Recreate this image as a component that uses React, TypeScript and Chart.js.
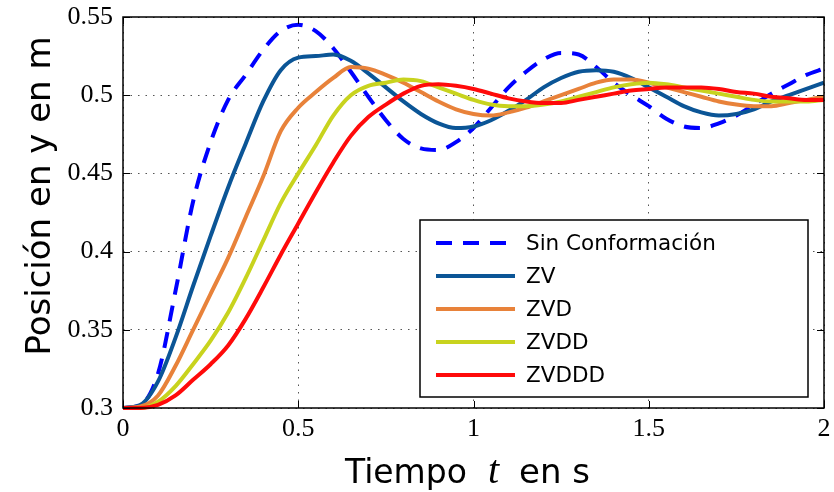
import { useEffect, useRef } from "react";
import { Chart, registerables } from "chart.js";

Chart.register(...registerables);

const time = [
  0, 0.05, 0.1, 0.15, 0.2, 0.25, 0.3, 0.35, 0.4, 0.45, 0.5, 0.55, 0.6, 0.65, 0.7, 0.75, 0.8, 0.85, 0.9, 0.95,
  1.0, 1.05, 1.1, 1.15, 1.2, 1.25, 1.3, 1.35, 1.4, 1.45, 1.5, 1.55, 1.6, 1.65, 1.7, 1.75, 1.8, 1.85, 1.9, 1.95, 2.0,
];

const sinConformacion = [
  0.3, 0.302, 0.322, 0.375, 0.432, 0.47, 0.497, 0.513, 0.529, 0.541, 0.545, 0.541, 0.53, 0.515, 0.499, 0.484,
  0.472, 0.466, 0.465, 0.47, 0.479, 0.492, 0.505, 0.515, 0.523, 0.527, 0.526, 0.518, 0.508, 0.5, 0.493, 0.485,
  0.48, 0.479, 0.482, 0.487, 0.494, 0.501, 0.507, 0.513, 0.517,
];

const zv = [
  0.3, 0.302, 0.317, 0.345, 0.378, 0.41, 0.441, 0.469, 0.496, 0.516, 0.524, 0.525, 0.526, 0.522, 0.514, 0.505,
  0.496, 0.488, 0.482, 0.479, 0.48, 0.484, 0.49, 0.497, 0.505, 0.511, 0.515, 0.516, 0.515, 0.511, 0.505, 0.499,
  0.493, 0.489, 0.487, 0.488, 0.491, 0.496, 0.5, 0.504, 0.508,
];

const zvd = [
  0.3, 0.301, 0.308, 0.327, 0.35, 0.373, 0.396, 0.422, 0.448, 0.477, 0.492, 0.502, 0.511, 0.518, 0.517, 0.513,
  0.508, 0.502, 0.496, 0.491, 0.488, 0.487, 0.489, 0.492, 0.496, 0.5, 0.504, 0.508, 0.51, 0.51, 0.508, 0.505,
  0.502, 0.499, 0.496, 0.494, 0.493, 0.493, 0.495, 0.497, 0.499,
];

const zvdd = [
  0.3, 0.3, 0.304, 0.314, 0.328, 0.343, 0.361, 0.383, 0.407, 0.431, 0.45, 0.468, 0.487, 0.5, 0.506, 0.508,
  0.51, 0.509, 0.505, 0.501, 0.497, 0.494, 0.493, 0.493, 0.494, 0.496, 0.499, 0.502, 0.505, 0.507, 0.508, 0.507,
  0.505, 0.503, 0.501, 0.499, 0.497, 0.496, 0.496, 0.496, 0.497,
];

const zvddd = [
  0.3, 0.3, 0.302, 0.308, 0.318, 0.328, 0.34, 0.357, 0.377, 0.398, 0.418, 0.438, 0.457, 0.474, 0.486, 0.494,
  0.501, 0.506, 0.507, 0.506, 0.504, 0.501, 0.498, 0.496, 0.495, 0.495, 0.497, 0.499, 0.501, 0.503, 0.504, 0.505,
  0.505, 0.505, 0.504, 0.502, 0.501, 0.499, 0.498, 0.497, 0.497,
];

const seriesNames = ["Sin Conformación", "ZV", "ZVD", "ZVDD", "ZVDDD"];
const seriesColors = ["#0000FF", "#0B5596", "#E8823A", "#C8D31E", "#FF0A0A"];

const xTickValues = [0, 0.5, 1, 1.5, 2];
const xTickLabels = ["0", "0.5", "1", "1.5", "2"];
const yTickValues = [0.3, 0.35, 0.4, 0.45, 0.5, 0.55];
const yTickLabels = ["0.3", "0.35", "0.4", "0.45", "0.5", "0.55"];

const xTitleParts = ["Tiempo", "t", "en s"];
const yTitle = "Posición en y en m";

const SANS = "'DejaVu Sans', Verdana, sans-serif";
const SERIF = "'Liberation Serif', 'Times New Roman', serif";

const decorPlugin = {
  id: "decor",
  afterDatasetsDraw(chart: any) {
    const ctx = chart.ctx as CanvasRenderingContext2D;
    const { left, right, top, bottom } = chart.chartArea;
    const xs = chart.scales.x;
    const ys = chart.scales.y;
    ctx.save();
    // frame
    ctx.strokeStyle = "#000";
    ctx.lineWidth = 1.5;
    ctx.strokeRect(left, top, right - left, bottom - top);
    // inward ticks
    ctx.lineWidth = 1;
    const tl = 7;
    xTickValues.forEach((v) => {
      const px = Math.round(xs.getPixelForValue(v)) + 0.5;
      ctx.beginPath();
      ctx.moveTo(px, bottom);
      ctx.lineTo(px, bottom - tl);
      ctx.moveTo(px, top);
      ctx.lineTo(px, top + tl);
      ctx.stroke();
    });
    yTickValues.forEach((v) => {
      const py = Math.round(ys.getPixelForValue(v)) + 0.5;
      ctx.beginPath();
      ctx.moveTo(left, py);
      ctx.lineTo(left + tl, py);
      ctx.moveTo(right, py);
      ctx.lineTo(right - tl, py);
      ctx.stroke();
    });

    // legend
    const lx = 420, ly = 220, lw = 388, lh = 177;
    ctx.fillStyle = "#fff";
    ctx.fillRect(lx, ly, lw, lh);
    ctx.strokeStyle = "#000";
    ctx.lineWidth = 1.5;
    ctx.strokeRect(lx, ly, lw, lh);
    const rowY = [243, 276, 309, 342, 375];
    chart.data.datasets.forEach((ds: any, i: number) => {
      const y = rowY[i];
      ctx.beginPath();
      ctx.strokeStyle = ds.borderColor;
      ctx.lineWidth = ds.borderWidth;
      ctx.setLineDash(ds.borderDash || []);
      ctx.moveTo(436, y);
      ctx.lineTo(515, y);
      ctx.stroke();
      ctx.setLineDash([]);
      ctx.fillStyle = "#000";
      ctx.font = `21.5px ${SANS}`;
      ctx.textAlign = "left";
      ctx.textBaseline = "middle";
      ctx.fillText(ds.label, 526, y + 1);
    });

    // x title with italic serif t
    ctx.fillStyle = "#000";
    ctx.textBaseline = "alphabetic";
    ctx.textAlign = "left";
    const base = 483;
    ctx.font = `33px ${SANS}`;
    ctx.fillText(xTitleParts[0], 345, base);
    ctx.font = `italic 40px ${SERIF}`;
    ctx.fillText(xTitleParts[1], 488, base);
    ctx.font = `34px ${SANS}`;
    ctx.fillText(xTitleParts[2], 519, base);

    // y title
    ctx.translate(50, 196);
    ctx.rotate(-Math.PI / 2);
    ctx.font = `34px ${SANS}`;
    ctx.textAlign = "center";
    ctx.textBaseline = "alphabetic";
    ctx.fillText(yTitle, 0, 0);
    ctx.restore();
  },
};

export default function App() {
  const ref = useRef<HTMLCanvasElement | null>(null);
  useEffect(() => {
    if (!ref.current) return;
    const seriesValues = [sinConformacion, zv, zvd, zvdd, zvddd];
    const chart = new Chart(ref.current, {
      type: "line",
      data: {
        datasets: seriesNames.map((name, i) => ({
          label: name,
          data: time.map((t, k) => ({ x: t, y: seriesValues[i][k] })),
          borderColor: seriesColors[i],
          backgroundColor: seriesColors[i],
          borderWidth: 4,
          borderDash: i === 0 ? [16, 11] : [],
          pointRadius: 0,
          fill: false,
          tension: 0.4,
          cubicInterpolationMode: "monotone" as const,
          clip: false as any,
          order: 5 - i,
        })),
      },
      options: {
        animation: false,
        responsive: false,
        maintainAspectRatio: false,
        layout: { padding: { top: 17, right: 10, left: 0, bottom: 0 } },
        plugins: { legend: { display: false }, tooltip: { enabled: false } },
        scales: {
          x: {
            type: "linear",
            min: 0,
            max: 2,
            afterBuildTicks: (s: any) => {
              s.ticks = xTickValues.map((v) => ({ value: v }));
            },
            afterFit: (s: any) => {
              s.height = 84;
              s.paddingLeft = 0;
              s.paddingRight = 0;
            },
            ticks: {
              autoSkip: false,
              maxRotation: 0,
              padding: 6,
              color: "#000",
              font: { family: SERIF, size: 26 },
              callback: (_v: any, i: number) => xTickLabels[i],
            },
            grid: { color: "#555", lineWidth: 1, drawTicks: false },
            border: { display: false, dash: [1.5, 6] },
          },
          y: {
            type: "linear",
            min: 0.3,
            max: 0.55,
            afterBuildTicks: (s: any) => {
              s.ticks = yTickValues.map((v) => ({ value: v }));
            },
            afterFit: (s: any) => {
              s.width = 123;
              s.paddingTop = 0;
              s.paddingBottom = 0;
            },
            ticks: {
              autoSkip: false,
              padding: 10,
              color: "#000",
              font: { family: SERIF, size: 26 },
              callback: (_v: any, i: number) => yTickLabels[i],
            },
            grid: { color: "#555", lineWidth: 1, drawTicks: false },
            border: { display: false, dash: [1.5, 6] },
          },
        },
      },
      plugins: [decorPlugin],
    });
    return () => chart.destroy();
  }, []);
  return (
    <div style={{ position: "absolute", left: 0, top: 0, width: 834, height: 492, background: "#fff" }}>
      <canvas ref={ref} width={834} height={492} style={{ display: "block", width: 834, height: 492 }} />
    </div>
  );
}
